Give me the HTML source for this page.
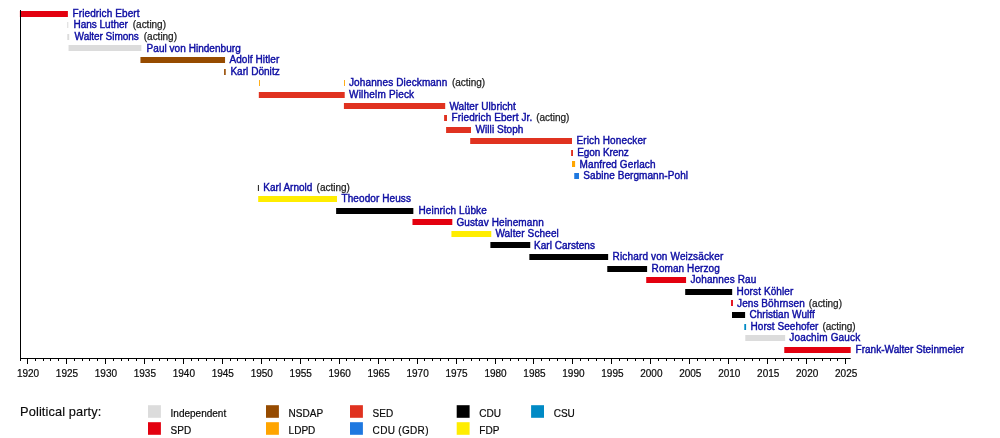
<!DOCTYPE html>
<html><head><meta charset="utf-8"><title>Timeline</title>
<style>
html,body{margin:0;padding:0;background:#fff;}
svg{display:block;font-family:"Liberation Sans",sans-serif;will-change:transform;}
.n{fill:#0c0ca2;font-size:10px;stroke:#0c0ca2;stroke-width:0.4px;}
.a{fill:#222;font-size:10px;stroke:#222;stroke-width:0.25px;}
.ax{fill:#0a0a0a;font-size:10px;stroke:#0a0a0a;stroke-width:0.2px;text-anchor:middle;}
.lg{fill:#0a0a0a;font-size:10px;stroke:#0a0a0a;stroke-width:0.2px;}
</style></head><body>
<svg width="1000" height="438" viewBox="0 0 1000 438">
<rect width="1000" height="438" fill="#ffffff"/>
<rect x="19.88" y="11.00" width="48.01" height="6" fill="#e3000f"/>
<text x="72.5" y="16.90" class="n" textLength="67.1">Friedrich Ebert</text>
<rect x="67.20" y="22.00" width="1.10" height="6" fill="#dcdcdc"/>
<text x="73.4" y="28.49" class="n" textLength="54.5">Hans Luther</text>
<text x="132.8" y="28.49" class="a" textLength="33.2">(acting)</text>
<rect x="67.30" y="34.00" width="1.90" height="6" fill="#dcdcdc"/>
<text x="74.6" y="40.08" class="n" textLength="64.1">Walter Simons</text>
<text x="143.8" y="40.08" class="a" textLength="33.2">(acting)</text>
<rect x="68.56" y="45.00" width="72.78" height="6" fill="#dcdcdc"/>
<text x="146.6" y="51.67" class="n" textLength="94.1">Paul von Hindenburg</text>
<rect x="140.44" y="57.00" width="84.61" height="6" fill="#964b00"/>
<text x="229.4" y="63.26" class="n" textLength="49.9">Adolf Hitler</text>
<rect x="224.10" y="69.00" width="1.60" height="6" fill="#964b00"/>
<text x="230.4" y="74.85" class="n" textLength="49.3">Karl Dönitz</text>
<rect x="259.00" y="80.00" width="0.90" height="6" fill="#ffa500"/>
<rect x="344.00" y="80.00" width="0.90" height="6" fill="#ffa500"/>
<text x="349.0" y="86.44" class="n" textLength="98.3">Johannes Dieckmann</text>
<text x="452.0" y="86.44" class="a" textLength="33.2">(acting)</text>
<rect x="258.81" y="92.00" width="85.89" height="6" fill="#e03220"/>
<text x="349.0" y="98.03" class="n" textLength="65.1">Wilhelm Pieck</text>
<rect x="343.91" y="103.00" width="101.29" height="6" fill="#e03220"/>
<text x="449.4" y="109.62" class="n" textLength="66.3">Walter Ulbricht</text>
<rect x="444.10" y="115.00" width="2.90" height="6" fill="#e03220"/>
<text x="451.5" y="121.21" class="n" textLength="80.7">Friedrich Ebert Jr.</text>
<text x="536.2" y="121.21" class="a" textLength="33.2">(acting)</text>
<rect x="446.10" y="127.00" width="24.90" height="6" fill="#e03220"/>
<text x="475.5" y="132.80" class="n" textLength="47.9">Willi Stoph</text>
<rect x="470.20" y="138.00" width="101.80" height="6" fill="#e03220"/>
<text x="576.5" y="144.39" class="n" textLength="69.9">Erich Honecker</text>
<rect x="571.10" y="150.00" width="1.90" height="6" fill="#e03220"/>
<text x="577.3" y="155.98" class="n" textLength="51.4">Egon Krenz</text>
<rect x="572.00" y="161.00" width="3.10" height="6" fill="#ffa500"/>
<text x="579.6" y="167.57" class="n" textLength="75.9">Manfred Gerlach</text>
<rect x="574.25" y="173.00" width="4.74" height="6" fill="#1e78e0"/>
<text x="583.3" y="179.16" class="n" textLength="104.7">Sabine Bergmann-Pohl</text>
<rect x="257.90" y="185.00" width="0.90" height="6" fill="#000000"/>
<text x="263.3" y="190.75" class="n" textLength="49.1">Karl Arnold</text>
<text x="316.6" y="190.75" class="a" textLength="33.2">(acting)</text>
<rect x="258.19" y="196.00" width="78.82" height="6" fill="#ffed00"/>
<text x="341.5" y="202.34" class="n" textLength="69.4">Theodor Heuss</text>
<rect x="336.13" y="208.00" width="77.22" height="6" fill="#000000"/>
<text x="418.5" y="213.93" class="n" textLength="68.3">Heinrich Lübke</text>
<rect x="412.47" y="219.00" width="39.84" height="6" fill="#e3000f"/>
<text x="456.4" y="225.52" class="n" textLength="87.3">Gustav Heinemann</text>
<rect x="451.43" y="231.00" width="39.84" height="6" fill="#ffed00"/>
<text x="495.4" y="237.11" class="n" textLength="63.4">Walter Scheel</text>
<rect x="490.39" y="242.00" width="39.85" height="6" fill="#000000"/>
<text x="534.1" y="248.70" class="n" textLength="60.8">Karl Carstens</text>
<rect x="529.36" y="254.00" width="78.79" height="6" fill="#000000"/>
<text x="612.6" y="260.29" class="n" textLength="110.7">Richard von Weizsäcker</text>
<rect x="607.27" y="266.00" width="39.84" height="6" fill="#000000"/>
<text x="651.6" y="271.88" class="n" textLength="68.1">Roman Herzog</text>
<rect x="646.23" y="277.00" width="39.85" height="6" fill="#e3000f"/>
<text x="690.4" y="283.47" class="n" textLength="65.9">Johannes Rau</text>
<rect x="685.20" y="289.00" width="46.98" height="6" fill="#000000"/>
<text x="736.6" y="295.06" class="n" textLength="56.7">Horst Köhler</text>
<rect x="731.10" y="300.00" width="1.80" height="6" fill="#e3000f"/>
<text x="737.1" y="306.65" class="n" textLength="67.6">Jens Böhrnsen</text>
<text x="808.8" y="306.65" class="a" textLength="33.2">(acting)</text>
<rect x="732.00" y="312.00" width="13.10" height="6" fill="#000000"/>
<text x="749.4" y="318.24" class="n" textLength="65.3">Christian Wulff</text>
<rect x="744.30" y="324.00" width="1.80" height="6" fill="#008ac5"/>
<text x="750.5" y="329.83" class="n" textLength="67.9">Horst Seehofer</text>
<text x="822.4" y="329.83" class="a" textLength="33.2">(acting)</text>
<rect x="745.30" y="335.00" width="39.84" height="6" fill="#dcdcdc"/>
<text x="789.3" y="341.42" class="n" textLength="70.9">Joachim Gauck</text>
<rect x="784.27" y="347.00" width="66.43" height="6" fill="#e3000f"/>
<text x="855.5" y="353.01" class="n" textLength="108.7">Frank-Walter Steinmeier</text>
<path d="M20.5 10 V361 M20 358.5 H850.7" fill="none" stroke="#000" stroke-width="1"/>
<path d="M27.50 358.5 V364 M35.50 358.5 V361 M43.50 358.5 V361 M50.50 358.5 V361 M58.50 358.5 V361 M66.50 358.5 V364 M74.50 358.5 V361 M82.50 358.5 V361 M89.50 358.5 V361 M97.50 358.5 V361 M105.50 358.5 V364 M113.50 358.5 V361 M121.50 358.5 V361 M128.50 358.5 V361 M136.50 358.5 V361 M144.50 358.5 V364 M152.50 358.5 V361 M159.50 358.5 V361 M167.50 358.5 V361 M175.50 358.5 V361 M183.50 358.5 V364 M191.50 358.5 V361 M198.50 358.5 V361 M206.50 358.5 V361 M214.50 358.5 V361 M222.50 358.5 V364 M230.50 358.5 V361 M237.50 358.5 V361 M245.50 358.5 V361 M253.50 358.5 V361 M261.50 358.5 V364 M269.50 358.5 V361 M276.50 358.5 V361 M284.50 358.5 V361 M292.50 358.5 V361 M300.50 358.5 V364 M308.50 358.5 V361 M315.50 358.5 V361 M323.50 358.5 V361 M331.50 358.5 V361 M339.50 358.5 V364 M346.50 358.5 V361 M354.50 358.5 V361 M362.50 358.5 V361 M370.50 358.5 V361 M378.50 358.5 V364 M385.50 358.5 V361 M393.50 358.5 V361 M401.50 358.5 V361 M409.50 358.5 V361 M417.50 358.5 V364 M424.50 358.5 V361 M432.50 358.5 V361 M440.50 358.5 V361 M448.50 358.5 V361 M456.50 358.5 V364 M463.50 358.5 V361 M471.50 358.5 V361 M479.50 358.5 V361 M487.50 358.5 V361 M495.50 358.5 V364 M502.50 358.5 V361 M510.50 358.5 V361 M518.50 358.5 V361 M526.50 358.5 V361 M533.50 358.5 V364 M541.50 358.5 V361 M549.50 358.5 V361 M557.50 358.5 V361 M565.50 358.5 V361 M572.50 358.5 V364 M580.50 358.5 V361 M588.50 358.5 V361 M596.50 358.5 V361 M604.50 358.5 V361 M611.50 358.5 V364 M619.50 358.5 V361 M627.50 358.5 V361 M635.50 358.5 V361 M643.50 358.5 V361 M650.50 358.5 V364 M658.50 358.5 V361 M666.50 358.5 V361 M674.50 358.5 V361 M682.50 358.5 V361 M689.50 358.5 V364 M697.50 358.5 V361 M705.50 358.5 V361 M713.50 358.5 V361 M720.50 358.5 V361 M728.50 358.5 V364 M736.50 358.5 V361 M744.50 358.5 V361 M752.50 358.5 V361 M759.50 358.5 V361 M767.50 358.5 V364 M775.50 358.5 V361 M783.50 358.5 V361 M791.50 358.5 V361 M798.50 358.5 V361 M806.50 358.5 V364 M814.50 358.5 V361 M822.50 358.5 V361 M830.50 358.5 V361 M837.50 358.5 V361 M845.50 358.5 V364" fill="none" stroke="#000" stroke-width="1"/>
<text x="28.00" y="376.7" class="ax">1920</text>
<text x="66.96" y="376.7" class="ax">1925</text>
<text x="105.92" y="376.7" class="ax">1930</text>
<text x="144.88" y="376.7" class="ax">1935</text>
<text x="183.84" y="376.7" class="ax">1940</text>
<text x="222.80" y="376.7" class="ax">1945</text>
<text x="261.76" y="376.7" class="ax">1950</text>
<text x="300.72" y="376.7" class="ax">1955</text>
<text x="339.68" y="376.7" class="ax">1960</text>
<text x="378.64" y="376.7" class="ax">1965</text>
<text x="417.60" y="376.7" class="ax">1970</text>
<text x="456.56" y="376.7" class="ax">1975</text>
<text x="495.52" y="376.7" class="ax">1980</text>
<text x="534.48" y="376.7" class="ax">1985</text>
<text x="573.44" y="376.7" class="ax">1990</text>
<text x="612.40" y="376.7" class="ax">1995</text>
<text x="651.36" y="376.7" class="ax">2000</text>
<text x="690.32" y="376.7" class="ax">2005</text>
<text x="729.28" y="376.7" class="ax">2010</text>
<text x="768.24" y="376.7" class="ax">2015</text>
<text x="807.20" y="376.7" class="ax">2020</text>
<text x="846.16" y="376.7" class="ax">2025</text>
<text x="20.1" y="415.8" textLength="81.2" style="font-size:12.8px;fill:#0a0a0a;stroke:#0a0a0a;stroke-width:0.15px">Political party:</text>
<rect x="148" y="405.2" width="12.9" height="12.6" fill="#dcdcdc"/>
<text x="170.6" y="416.6" class="lg">Independent</text>
<rect x="148" y="422.2" width="12.9" height="12.6" fill="#e3000f"/>
<text x="170.6" y="433.9" class="lg">SPD</text>
<rect x="266" y="405.2" width="12.9" height="12.6" fill="#964b00"/>
<text x="288.6" y="416.6" class="lg">NSDAP</text>
<rect x="266" y="422.2" width="12.9" height="12.6" fill="#ffa500"/>
<text x="288.6" y="433.9" class="lg">LDPD</text>
<rect x="350" y="405.2" width="12.9" height="12.6" fill="#e03220"/>
<text x="372.6" y="416.6" class="lg">SED</text>
<rect x="350" y="422.2" width="12.9" height="12.6" fill="#1e78e0"/>
<text x="372.6" y="433.9" class="lg" textLength="55.9">CDU (GDR)</text>
<rect x="456.7" y="405.2" width="12.9" height="12.6" fill="#000000"/>
<text x="479.3" y="416.6" class="lg">CDU</text>
<rect x="456.7" y="422.2" width="12.9" height="12.6" fill="#ffed00"/>
<text x="479.3" y="433.9" class="lg">FDP</text>
<rect x="531.1" y="405.2" width="12.9" height="12.6" fill="#008ac5"/>
<text x="553.7" y="416.6" class="lg">CSU</text>
</svg></body></html>
